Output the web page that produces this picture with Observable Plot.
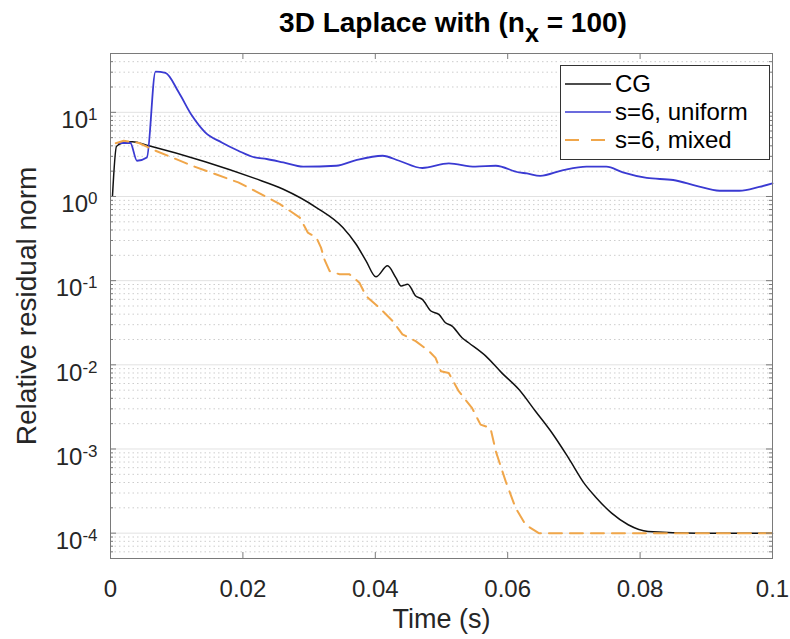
<!DOCTYPE html>
<html>
<head>
<meta charset="utf-8">
<script src="https://cdn.jsdelivr.net/npm/d3@7"></script>
<script src="https://cdn.jsdelivr.net/npm/@observablehq/plot@0.6"></script>
<style>
  body { margin: 0; background: #fff; font-family: "Liberation Sans", Arial, Helvetica, sans-serif; }
  #wrap { position: relative; width: 790px; height: 639px; }
  #title { height: 45px; box-sizing: border-box; padding-left: 134px; padding-right: 18px; text-align: center;
           font-weight: bold; font-size: 28px; line-height: 45px; color: #000; white-space: nowrap; }
  #title sub { font-size: 0.9em; vertical-align: -0.4em; line-height: 0; }
  #legend { position: absolute; left: 560px; top: 65px; width: 210px; height: 95px; box-sizing: border-box;
            border: 1px solid #333; background: #fff; padding: 4px 0 0 4px; }
  .row { display: flex; align-items: center; height: 28px; font-size: 24px; color: #000; }
  .row svg { margin-right: 4px; }
</style>
</head>
<body>
<div id="wrap">
  <div id="title">3D Laplace with (n<sub>x</sub> = 100)</div>
  <div id="chart"></div>
  <div id="legend"></div>
</div>
<script>
// ---- data ----
const seriesNames = ["CG", "s=6, uniform", "s=6, mixed"];
const seriesColors = ["#111111", "#3a3ad2", "#f0a64a"];

const cgTime = [0.0003, 0.0009, 0.0018, 0.0033, 0.0058, 0.0143, 0.0218, 0.0261, 0.0311, 0.0351, 0.0371, 0.0386, 0.0401,
  0.04185, 0.0431, 0.0439, 0.0449, 0.0461, 0.0471, 0.0484, 0.0496, 0.0506, 0.0516, 0.0531, 0.0541, 0.0567, 0.0591,
  0.0617, 0.0642, 0.0667, 0.0692, 0.0717, 0.0732, 0.0757, 0.0782, 0.0812, 0.0887, 0.1];
const cgResid = [1.02, 3.94, 4.32, 4.48, 4.01, 2.59, 1.64, 1.22, 0.74, 0.428, 0.271, 0.172, 0.111,
  0.150, 0.1086, 0.0865, 0.0906, 0.0657, 0.060, 0.0436, 0.0398, 0.0316, 0.0289, 0.021, 0.0183, 0.0127, 0.00803,
  0.00509, 0.00281, 0.00155, 0.00078, 0.000377, 0.000273, 0.000173, 0.000126, 0.000105, 0.0001, 0.0001];

const uniTime = [0.00125, 0.003, 0.004, 0.0055, 0.0068, 0.0083, 0.0103, 0.0123, 0.0143, 0.0168, 0.0193, 0.0218,
  0.0236, 0.0261, 0.0291, 0.0341, 0.0371, 0.0411, 0.0436, 0.0471, 0.0511, 0.0551, 0.0582, 0.0617, 0.0629, 0.0649,
  0.0684, 0.0719, 0.0749, 0.0774, 0.0810, 0.0850, 0.0885, 0.0920, 0.0950, 0.0980, 0.1];
const uniResid = [4.32, 4.32, 2.66, 2.91, 30.5, 29.4, 17.3, 9.14, 5.78, 4.39, 3.5, 2.91,
  2.79, 2.54, 2.26, 2.32, 2.71, 3.05, 2.66, 2.18, 2.47, 2.26, 2.32, 1.93, 1.88, 1.76,
  2.06, 2.26, 2.26, 1.93, 1.66, 1.57, 1.34, 1.17, 1.17, 1.30, 1.43];

const mixTime = [0.0008, 0.002, 0.0043, 0.0068, 0.0093, 0.0123, 0.0158, 0.0193, 0.0218, 0.0256, 0.0286, 0.0298,
  0.0311, 0.0318, 0.0323, 0.0331, 0.0346, 0.0361, 0.0376, 0.0386, 0.0406, 0.0426, 0.0441, 0.0461, 0.0481, 0.0491,
  0.0499, 0.0511, 0.0526, 0.0546, 0.0559, 0.0574, 0.0582, 0.0597, 0.0612, 0.0627, 0.0647, 0.1];
const mixResid = [4.3, 4.6, 4.32, 3.5, 2.91, 2.32, 1.85, 1.47, 1.17, 0.81, 0.562, 0.373,
  0.325, 0.247, 0.18, 0.130, 0.119, 0.119, 0.0946, 0.0657, 0.0477, 0.0332, 0.023, 0.0191, 0.0146, 0.0121,
  0.0084, 0.0080, 0.00486, 0.00308, 0.00195, 0.00178, 0.00094, 0.000412, 0.000199, 0.000126, 0.0001, 0.0001];

const xTicks = [0, 0.02, 0.04, 0.06, 0.08, 0.1];
const xTickLabels = ["0", "0.02", "0.04", "0.06", "0.08", "0.1"];
const yExponents = [-4, -3, -2, -1, 0, 1];
const yDomain = [5e-5, 50];

// ---- derived tables ----
const toRows = (ts, rs, name) => ts.map((t, i) => ({ t, r: rs[i], series: name }));
const cg = toRows(cgTime, cgResid, seriesNames[0]);
const uni = toRows(uniTime, uniResid, seriesNames[1]);
const mix = toRows(mixTime, mixResid, seriesNames[2]);

const yMajor = yExponents.map(e => Math.pow(10, e));
const yMinor = [];
for (let e = -5; e <= 1; e++) for (let m = 2; m <= 9; m++) {
  const v = m * Math.pow(10, e);
  if (v >= yDomain[0] * 0.999 && v <= yDomain[1] * 1.001) yMinor.push(v);
}

const W = 790, H = 594, mT = 8, mB = 81, mL = 110, mR = 18;
const pw = W - mL - mR, ph = H - mT - mB;
const axisColor = "#7a7a7a";
const textColor = "#262626";

const chart = Plot.plot({
  width: W, height: H,
  marginTop: mT, marginBottom: mB, marginLeft: mL, marginRight: mR,
  style: { fontFamily: '"Liberation Sans", Arial, Helvetica, sans-serif', fontSize: "24px", color: textColor, background: "#fff" },
  x: { domain: [0, 0.1] },
  y: { type: "log", domain: yDomain },
  marks: [
    Plot.ruleY(yMinor, { y: d => d, stroke: "#cdcdcd", strokeWidth: 1, strokeDasharray: "1.5,3" }),
    Plot.ruleY(yMajor, { y: d => d, stroke: "#e2e2e2", strokeWidth: 1 }),
    Plot.line(cg, { x: "t", y: "r", stroke: seriesColors[0], strokeWidth: 1.5, curve: "monotone-x" }),
    Plot.line(uni, { x: "t", y: "r", stroke: seriesColors[1], strokeWidth: 1.8, curve: "monotone-x" }),
    Plot.line(mix, { x: "t", y: "r", stroke: seriesColors[2], strokeWidth: 2, strokeDasharray: "13,8" }),
    Plot.frame({ stroke: axisColor, strokeWidth: 1 }),
    // inward ticks (bottom, top)
    Plot.tickX(xTicks, { x: d => d, stroke: axisColor, insetTop: ph - 6 }),
    Plot.tickX(xTicks, { x: d => d, stroke: axisColor, insetBottom: ph - 6 }),
    // inward ticks (left, right) major & minor
    Plot.tickY(yMajor, { y: d => d, stroke: axisColor, insetRight: pw - 6 }),
    Plot.tickY(yMajor, { y: d => d, stroke: axisColor, insetLeft: pw - 6 }),
    Plot.tickY(yMinor, { y: d => d, stroke: axisColor, insetRight: pw - 3 }),
    Plot.tickY(yMinor, { y: d => d, stroke: axisColor, insetLeft: pw - 3 }),
    Plot.axisX({ ticks: xTicks, tickSize: 0, tickPadding: 21, lineAnchor: "top", fontSize: 24, fill: textColor,
                 tickFormat: d => xTickLabels[xTicks.indexOf(d)], label: null }),
    Plot.axisY({ ticks: yMajor, tickSize: 0, tickPadding: 13, fontSize: 24, fill: textColor, dy: 8,
                 tickFormat: d => "10^" + Math.round(Math.log10(d)), label: null }),
    Plot.text(["Time (s)"], { frameAnchor: "bottom", dy: 69, fontSize: 27, fill: textColor, text: d => d }),
    Plot.text(["Relative residual norm"], { frameAnchor: "left", textAnchor: "middle", dx: -83, rotate: -90,
                 fontSize: 28, fill: textColor, text: d => d })
  ]
});
document.getElementById("chart").appendChild(chart);

// superscript exponents on the y tick labels
d3.select(chart).selectAll('g[aria-label="y-axis tick label"] text').each(function () {
  const s = this.textContent;
  const m = s.match(/^10\^(-?\d+)$/);
  if (!m) return;
  const el = d3.select(this);
  el.text(null);
  el.append("tspan").text("10");
  el.append("tspan").attr("dy", -8).attr("font-size", 17).text(m[1]);
});

// legend
const legend = d3.select("#legend");
seriesNames.forEach((name, i) => {
  const row = legend.append("div").attr("class", "row");
  const sv = row.append("svg").attr("width", 46).attr("height", 10);
  sv.append("line").attr("x1", 0).attr("x2", 46).attr("y1", 5).attr("y2", 5)
    .attr("stroke", seriesColors[i]).attr("stroke-width", i === 2 ? 2 : 1.6)
    .attr("stroke-dasharray", i === 2 ? "14,12" : null);
  row.append("span").text(name);
});
</script>
</body>
</html>
